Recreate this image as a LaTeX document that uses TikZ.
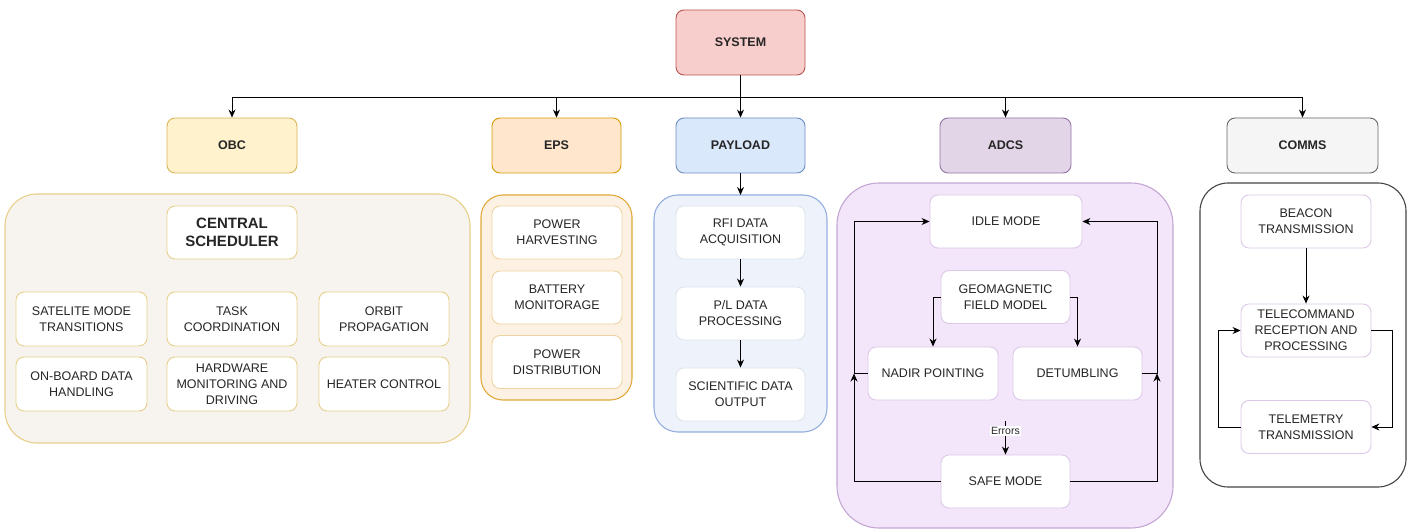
\documentclass[tikz,border=0pt]{standalone}
\usepackage{fontspec}
\setmainfont{Liberation Sans}
\usetikzlibrary{arrows.meta,positioning}
\definecolor{sysF}{HTML}{F8CECC}\definecolor{sysD}{HTML}{B85450}
\definecolor{obcF}{HTML}{FFF2CC}\definecolor{obcD}{HTML}{D6B656}
\definecolor{epsF}{HTML}{FFE6CC}\definecolor{epsD}{HTML}{D79B00}
\definecolor{payF}{HTML}{DAE8FC}\definecolor{payD}{HTML}{6C8EBF}
\definecolor{adcF}{HTML}{E1D5E7}\definecolor{adcD}{HTML}{9673A6}
\definecolor{comF}{HTML}{F5F5F5}\definecolor{comD}{HTML}{666666}
\definecolor{obcCF}{HTML}{F7F4EF}\definecolor{obcCD}{HTML}{E8CF8A}\definecolor{obcI}{HTML}{E6D08A}
\definecolor{epsCF}{HTML}{FDF1E4}\definecolor{epsCD}{HTML}{E0A93A}\definecolor{epsI}{HTML}{EFD3A0}
\definecolor{payCF}{HTML}{EEF3FB}\definecolor{payCD}{HTML}{92AEE0}\definecolor{payI}{HTML}{DCE5EA}
\definecolor{adcCF}{HTML}{F3E6FA}\definecolor{adcCD}{HTML}{C3A6D3}\definecolor{adcI}{HTML}{DCC8E8}
\definecolor{comCD}{HTML}{444444}
\tikzset{
  top/.style={draw, rounded corners=8pt, line width=0.9pt, minimum width=129pt, minimum height=55pt,
    font=\fontsize{12.5}{16}\selectfont\bfseries, text=black!85},
  item/.style={draw, fill=white, rounded corners=8pt, line width=0.9pt, minimum width=130pt, minimum height=54pt,
    align=center, font=\fontsize{12.5}{16}\selectfont, text=black!85},
  cont/.style={draw, line width=1.1pt},
  arr/.style={-{Stealth[length=8pt,width=7pt]}, line width=0.9pt, black},
  ln/.style={line width=0.9pt, black!75},
}
\begin{document}
\begin{tikzpicture}[x=1pt,y=-1pt]
\useasboundingbox (0,0) rectangle (1411,529);
% top level
\node[top, fill=sysF, draw=sysD, minimum height=65pt] (sys) at (740.5,42.5) {SYSTEM};
\node[top, fill=obcF, draw=obcD, minimum width=130pt] (obc) at (232,145.5) {OBC};
\node[top, fill=epsF, draw=epsD] (eps) at (556.5,145.5) {EPS};
\node[top, fill=payF, draw=payD] (pay) at (740.5,145.5) {PAYLOAD};
\node[top, fill=adcF, draw=adcD, minimum width=131pt] (adcs) at (1005.5,145.5) {ADCS};
\node[top, fill=comF, draw=comD, minimum width=151pt] (comms) at (1302.5,145.5) {COMMS};
\coordinate (bus) at (740.5,97);
\draw[arr] (sys.south) -- (bus) -| (obc.north);
\draw[arr] (sys.south) -- (bus) -| (eps.north);
\draw[arr] (sys.south) -- (pay.north);
\draw[arr] (sys.south) -- (bus) -| (adcs.north);
\draw[arr] (sys.south) -- (bus) -| (comms.north);
% containers
\draw[cont, fill=obcCF, draw=obcCD, rounded corners=32pt] (5,194) rectangle (470,443);
\draw[cont, fill=epsCF, draw=epsCD, rounded corners=22pt] (481,195) rectangle (632,400);
\draw[cont, fill=payCF, draw=payCD, rounded corners=24pt] (654,195) rectangle (827,432);
\draw[cont, fill=adcCF, draw=adcCD, rounded corners=42pt] (837,183) rectangle (1173,528);
\draw[cont, fill=white, draw=comCD, rounded corners=28pt] (1200,183) rectangle (1406,487);
\node[coordinate] (payC) at (740.5,195) {};
% OBC
\begin{scope}[every node/.append style={item, draw=obcI}]
\node[minimum height=53pt, font=\fontsize{15}{18}\selectfont\bfseries] (cs) at (232,232.5) {CENTRAL\\SCHEDULER};
\node[minimum width=131pt] (o1) at (81.5,319) {SATELITE MODE\\TRANSITIONS};
\node (o2) at (232,319) {TASK\\COORDINATION};
\node (o3) at (384,319) {ORBIT\\PROPAGATION};
\node[minimum width=131pt] (o4) at (81.5,384) {ON-BOARD DATA\\HANDLING};
\node (o5) at (232,384) {HARDWARE\\MONITORING AND\\DRIVING};
\node (o6) at (384,384) {HEATER CONTROL};
\end{scope}
% EPS
\begin{scope}[every node/.append style={item, draw=epsI, minimum height=53pt}]
\node (e1) at (557,232.5) {POWER\\HARVESTING};
\node (e2) at (557,297.5) {BATTERY\\MONITORAGE};
\node (e3) at (557,362) {POWER\\DISTRIBUTION};
\end{scope}
% PAYLOAD
\begin{scope}[every node/.append style={item, draw=payI, minimum width=129pt, minimum height=53pt}]
\node (p1) at (740.5,232.5) {RFI DATA\\ACQUISITION};
\node (p2) at (740.5,313.5) {P/L DATA\\PROCESSING};
\node (p3) at (740.5,394.5) {SCIENTIFIC DATA\\OUTPUT};
\end{scope}
\draw[arr] (pay.south) -- (payC);
\draw[arr] (p1) -- (p2);
\draw[arr] (p2) -- (p3);
% ADCS
\begin{scope}[every node/.append style={item, draw=adcI, minimum height=53pt}]
\node[minimum width=152pt] (idle) at (1006,221.5) {IDLE MODE};
\node[minimum width=129pt] (geo) at (1005.5,297) {GEOMAGNETIC\\FIELD MODEL};
\node (nadir) at (933,373.5) {NADIR POINTING};
\node[minimum width=129pt] (det) at (1077.5,373.5) {DETUMBLING};
\node[minimum width=129pt] (safe) at (1005.5,481.5) {SAFE MODE};
\end{scope}
\draw[arr] (geo.west) -| (nadir.north);
\draw[arr] (geo.east) -| (det.north);
\coordinate (L) at (854,373.5);
\coordinate (R) at (1157,373.5);
\draw[arr] (nadir.west) -- (L) |- (idle.west);
\draw[arr] (safe.west) -| (L);
\draw[arr] (det.east) -- (R) |- (idle.east);
\draw[arr] (safe.east) -| (R);
\coordinate (e0) at (1005.5,421);
\draw[arr] (e0) -- (safe.north) node[pos=0.3, fill=white, inner sep=1pt, font=\fontsize{10.5}{12}\selectfont, text=black!85] (err) {Errors};
% COMMS
\begin{scope}[every node/.append style={item, draw=adcI, minimum height=53pt}]
\node (b1) at (1306,221.5) {BEACON\\TRANSMISSION};
\node (tc) at (1306,330.5) {TELECOMMAND\\RECEPTION AND\\PROCESSING};
\node (tm) at (1306,427) {TELEMETRY\\TRANSMISSION};
\end{scope}
\draw[arr] (b1) -- (tc);
\draw[arr] (tc.east) -- ++(21,0) |- (tm.east);
\draw[arr] (tm.west) -- ++(-22,0) |- (tc.west);
\end{tikzpicture}
\end{document}
